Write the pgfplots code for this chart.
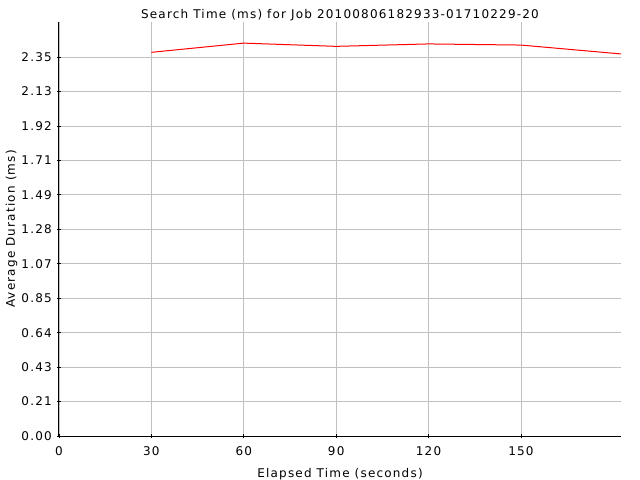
\documentclass[border=0pt]{standalone}
\usepackage{fontspec}
\setmainfont[LetterSpace=10]{DejaVu Sans}
\usepackage{pgfplots}
\pgfplotsset{compat=1.18}
\definecolor{gridgray}{RGB}{192,192,192}
\definecolor{linered}{RGB}{255,0,0}
\begin{document}
\fontsize{12bp}{14bp}\selectfont
\begin{tikzpicture}
\begin{axis}[
  scale only axis,
  width=562bp, height=414bp,
  at={(0,0)}, anchor=south west,
  xmin=0, xmax=182.5,
  ymin=0, ymax=2.567,
  axis lines*=left,
  axis line style={black, line width=1bp},
  xtick={0,30,60,90,120,150},
  ytick={0,0.21364,0.42727,0.64091,0.85455,1.06818,1.28182,1.49545,1.70909,1.92273,2.13636,2.35},
  yticklabels={0.00,0.21,0.43,0.64,0.85,1.07,1.28,1.49,1.71,1.92,2.13,2.35},
  xticklabels={0,30,60,90,120,150},
  grid=major,
  major grid style={gridgray, line width=0.8bp},
  tick style={black, line width=0.8bp},
  tick align=center, major tick length=4bp,
  /pgf/number format/assume math mode=true,
  xticklabel style={anchor=base, inner sep=0pt, yshift=-17bp},
  yticklabel style={anchor=east, inner sep=0pt, xshift=-5bp},
  title={Search Time (ms) for Job 20100806182933-01710229-20},
  title style={at={(axis description cs:0.5,1)}, anchor=base, yshift=-2bp, inner sep=0pt},
  xlabel={Elapsed Time (seconds)},
  xlabel style={at={(axis description cs:0.5,0)}, anchor=base, yshift=-41bp, inner sep=0pt},
  ylabel={Average Duration (ms)},
  ylabel style={at={(axis description cs:0,0.5)}, anchor=base, yshift=44bp, inner sep=0pt},
]
\addplot[linered, line width=1bp, mark=none] coordinates {
  (30,2.379)
  (60,2.436)
  (90,2.416)
  (120,2.431)
  (150,2.424)
  (182.5,2.369)
};
\end{axis}
\pgfresetboundingbox
\path[use as bounding box] (-59bp,-44bp) rectangle (581bp,436bp);
\end{tikzpicture}
\end{document}
